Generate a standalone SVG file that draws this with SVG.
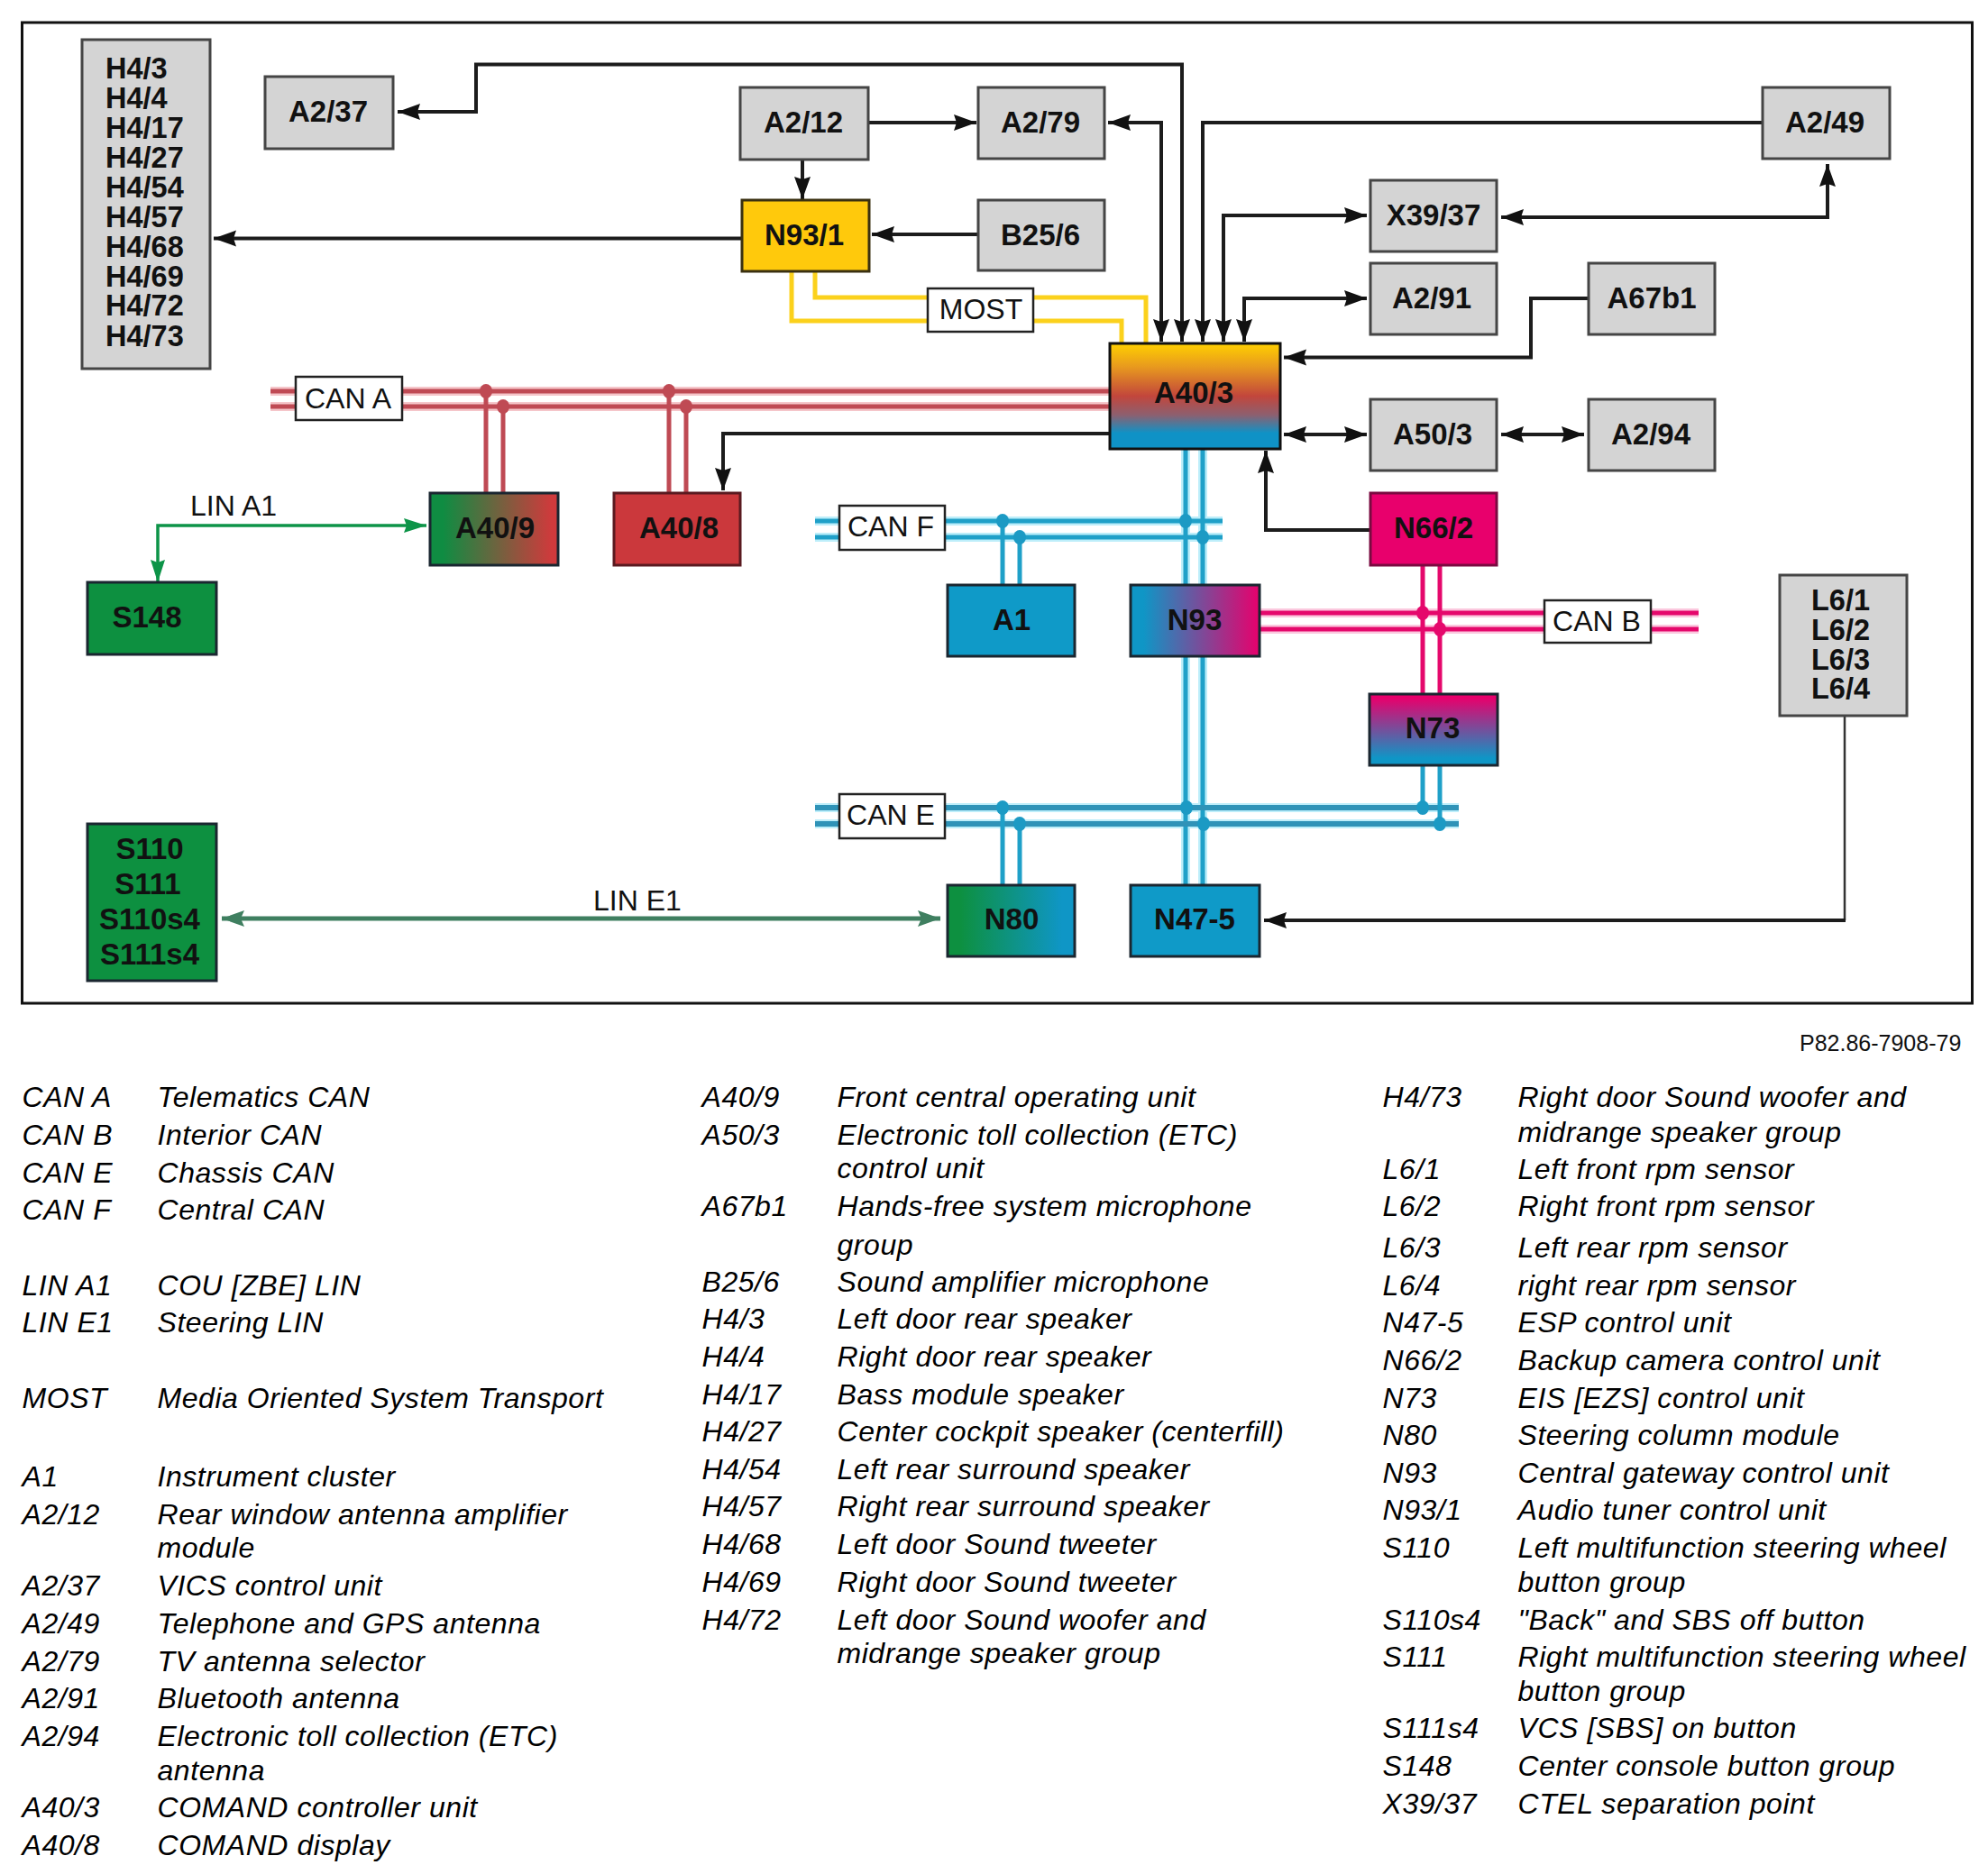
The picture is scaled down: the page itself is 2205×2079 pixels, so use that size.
<svg xmlns="http://www.w3.org/2000/svg" width="2205" height="2079" viewBox="0 0 2205 2079">
<style>
text{font-family:"Liberation Sans",Arial,sans-serif;fill:#111}
.n{fill:#d4d4d4;stroke:#454545;stroke-width:3}
.c{stroke:#1a2630;stroke-width:3}
.b{font-size:33px;font-weight:bold;text-anchor:middle;transform:translateY(-1px)}
.bs{font-size:32.5px;font-weight:bold;transform:translateY(-1px)}
.lb{fill:#fff;stroke:#222;stroke-width:2.5}
.t{font-size:32px;text-anchor:middle;transform:translateY(-1px)}
.l{font-size:32px;font-style:italic;letter-spacing:.55px;fill:#000}
.k{fill:none;stroke:#1c1c1c;stroke-width:4}
.ks{fill:none;stroke:#333;stroke-width:2.5}
.yel{fill:none;stroke:#fbd11c;stroke-width:5}
.red{fill:none;stroke:#bf4a54;stroke-width:5}
.blu{fill:none;stroke:#1fa0c8;stroke-width:5}
.bld{fill:none;stroke:#2f93b8;stroke-width:6}
.pnk{fill:none;stroke:#e5086c;stroke-width:5}
.hr{fill:none;stroke:#f5c6ca;stroke-width:10}
.hb{fill:none;stroke:#bdeefa;stroke-width:10}
.hp{fill:none;stroke:#fbc8de;stroke-width:10}
.dr{fill:#bf4a54}.db{fill:#1c9ac4}.dp{fill:#e5086c}
</style>
<defs>
<marker id="ah" markerUnits="userSpaceOnUse" markerWidth="26" markerHeight="20" refX="25" refY="10" orient="auto-start-reverse"><path d="M0,1 L25,10 L0,19 L3,10 Z" fill="#111"/></marker>
<marker id="ag" markerUnits="userSpaceOnUse" markerWidth="26" markerHeight="18" refX="25" refY="9" orient="auto-start-reverse"><path d="M0,1 L25,9 L0,17 L3,9 Z" fill="#0d9448"/></marker>
<marker id="ad" markerUnits="userSpaceOnUse" markerWidth="26" markerHeight="20" refX="25" refY="10" orient="auto-start-reverse"><path d="M0,1 L25,10 L0,19 L4,10 Z" fill="#3f7f60"/></marker>
<linearGradient id="g403" x1="0" y1="0" x2="0" y2="1"><stop offset="0" stop-color="#ffd000"/><stop offset=".22" stop-color="#e89a1e"/><stop offset=".5" stop-color="#c2463c"/><stop offset=".68" stop-color="#8c6070"/><stop offset=".85" stop-color="#0f92c6"/><stop offset="1" stop-color="#0f92c6"/></linearGradient>
<linearGradient id="g409" x1="0" y1="0" x2="1" y2="0"><stop offset=".1" stop-color="#0f8c42"/><stop offset=".95" stop-color="#cf3a3c"/></linearGradient>
<linearGradient id="gn93" x1="0" y1="0" x2="1" y2="0"><stop offset=".1" stop-color="#0f96c6"/><stop offset="1" stop-color="#e8006c"/></linearGradient>
<linearGradient id="gn73" x1="0" y1="0" x2="0" y2="1"><stop offset=".05" stop-color="#e8006c"/><stop offset=".9" stop-color="#0f96c6"/></linearGradient>
<linearGradient id="gn80" x1="0" y1="0" x2="1" y2="0"><stop offset=".1" stop-color="#0d9040"/><stop offset=".9" stop-color="#0f96c6"/></linearGradient>
</defs>
<rect width="2205" height="2079" fill="#fff"/>
<rect id="frame" x="24.5" y="25" width="2163" height="1088" fill="none" stroke="#111" stroke-width="3"/>

<g id="connectors">
<path class="yel" d="M878,301 V356 H1244 V381"/>
<path class="yel" d="M904,301 V330 H1271 V381"/>
<path class="hr" d="M300,434 H1231 M300,451 H1231"/>
<path class="red" d="M300,434 H1231 M300,451 H1231 M539,434 V547 M558,451 V547 M742,434 V547 M761,451 V547"/>
<ellipse class="dr" cx="539" cy="434" rx="7" ry="8"/><ellipse class="dr" cx="558" cy="451" rx="7" ry="8"/><ellipse class="dr" cx="742" cy="434" rx="7" ry="8"/><ellipse class="dr" cx="761" cy="451" rx="7" ry="8"/>
<path class="hb" d="M904,578 H1356 M904,596 H1356 M904,896 H1618 M904,914 H1618 M1315,498 V982 M1334,498 V982"/>
<path class="blu" d="M904,578 H1356 M904,596 H1356 M1112,578 V649 M1131,596 V649 M1315,498 V982 M1334,498 V982"/>
<path class="bld" d="M904,896 H1618 M904,914 H1618"/>
<path class="blu" d="M1112,896 V982 M1131,914 V982 M1578,849 V896 M1597,849 V914"/>
<path class="hp" d="M1397,680 H1884 M1397,698 H1884"/>
<path class="pnk" d="M1397,680 H1884 M1397,698 H1884 M1578,627 V770 M1597,627 V770"/>
<g class="db"><ellipse cx="1112" cy="578" rx="7" ry="8"/><ellipse cx="1131" cy="596" rx="7" ry="8"/><ellipse cx="1315" cy="578" rx="7" ry="8"/><ellipse cx="1334" cy="596" rx="7" ry="8"/><ellipse cx="1112" cy="896" rx="7" ry="8"/><ellipse cx="1131" cy="914" rx="7" ry="8"/><ellipse cx="1316" cy="896" rx="7" ry="8"/><ellipse cx="1335" cy="914" rx="7" ry="8"/><ellipse cx="1578" cy="896" rx="7" ry="8"/><ellipse cx="1597" cy="914" rx="7" ry="8"/></g>
<g class="dp"><ellipse cx="1578" cy="680" rx="7" ry="8"/><ellipse cx="1597" cy="698" rx="7" ry="8"/></g>
<path class="k" d="M1311,379 V71.5 H528 V124 H441" marker-start="url(#ah)" marker-end="url(#ah)"/>
<path class="k" d="M1229,136 H1288 V379" marker-start="url(#ah)" marker-end="url(#ah)"/>
<path class="k" d="M1955,136 H1334 V379" marker-end="url(#ah)"/>
<path class="k" d="M1516,239 H1357 V379" marker-start="url(#ah)" marker-end="url(#ah)"/>
<path class="k" d="M1516,331 H1380 V379" marker-start="url(#ah)" marker-end="url(#ah)"/>
<path class="k" d="M1665,241 H2027 V182" marker-start="url(#ah)" marker-end="url(#ah)"/>
<path class="k" d="M1762,331 H1698 V396.5 H1424" marker-end="url(#ah)"/>
<path class="k" d="M1424,482 H1516" marker-start="url(#ah)" marker-end="url(#ah)"/>
<path class="k" d="M1665,482 H1757" marker-start="url(#ah)" marker-end="url(#ah)"/>
<path class="k" d="M1520,588 H1404 V500" marker-end="url(#ah)"/>
<path class="k" d="M1231,481 H802 V544" marker-end="url(#ah)"/>
<path class="k" d="M963,136 H1083" marker-end="url(#ah)"/>
<path class="k" d="M890,177 V221" marker-end="url(#ah)"/>
<path class="k" d="M1085,260 H967" marker-end="url(#ah)"/>
<path class="k" d="M823,264.5 H237" marker-end="url(#ah)"/>
<path fill="none" stroke="#0d9448" stroke-width="3.5" d="M473,583 H175 V646" marker-start="url(#ag)" marker-end="url(#ag)"/>
<path fill="none" stroke="#3f7f60" stroke-width="5" d="M246,1019 H1043" marker-start="url(#ad)" marker-end="url(#ad)"/>
<path class="ks" d="M2046,794 V1021"/>
<path class="k" d="M2047,1021 H1402" marker-end="url(#ah)"/>
</g>

<g id="n-H4"><rect class="n" x="91" y="44" width="142" height="365"/>
<text class="bs" x="117" y="88">H4/3</text><text class="bs" x="117" y="121">H4/4</text><text class="bs" x="117" y="154">H4/17</text><text class="bs" x="117" y="187">H4/27</text><text class="bs" x="117" y="220">H4/54</text><text class="bs" x="117" y="253">H4/57</text><text class="bs" x="117" y="286">H4/68</text><text class="bs" x="117" y="319">H4/69</text><text class="bs" x="117" y="351">H4/72</text><text class="bs" x="117" y="385">H4/73</text></g>
<g id="n-A2-37"><rect class="n" x="294" y="85" width="142" height="80"/><text class="b" x="364" y="136">A2/37</text></g>
<g id="n-A2-12"><rect class="n" x="821" y="97" width="142" height="80"/><text class="b" x="891" y="148">A2/12</text></g>
<g id="n-A2-79"><rect class="n" x="1085" y="97" width="140" height="79"/><text class="b" x="1154" y="148">A2/79</text></g>
<g id="n-A2-49"><rect class="n" x="1955" y="97" width="141" height="79"/><text class="b" x="2024" y="148">A2/49</text></g>
<g id="n-N93-1"><rect x="823" y="222" width="141" height="79" fill="#ffc90c" stroke="#3a3010" stroke-width="3"/><text class="b" x="892" y="273">N93/1</text></g>
<g id="n-B25-6"><rect class="n" x="1085" y="222" width="140" height="78"/><text class="b" x="1154" y="273">B25/6</text></g>
<g id="n-X39-37"><rect class="n" x="1520" y="200" width="140" height="79"/><text class="b" x="1590" y="251">X39/37</text></g>
<g id="n-A2-91"><rect class="n" x="1520" y="292" width="140" height="79"/><text class="b" x="1588" y="343">A2/91</text></g>
<g id="n-A67b1"><rect class="n" x="1762" y="292" width="140" height="79"/><text class="b" x="1832" y="343">A67b1</text></g>
<g id="n-A40-3"><rect x="1231" y="381" width="189" height="117" fill="url(#g403)" stroke="#111" stroke-width="3"/><text class="b" x="1324" y="448">A40/3</text></g>
<g id="n-A50-3"><rect class="n" x="1520" y="443" width="140" height="79"/><text class="b" x="1589" y="494">A50/3</text></g>
<g id="n-A2-94"><rect class="n" x="1762" y="443" width="140" height="79"/><text class="b" x="1831" y="494">A2/94</text></g>
<g id="n-N66-2"><rect x="1520" y="547" width="140" height="80" fill="#e8006c" stroke="#7a0a40" stroke-width="3"/><text class="b" x="1590" y="598">N66/2</text></g>
<g id="n-A40-9"><rect class="c" x="477" y="547" width="142" height="80" fill="url(#g409)"/><text class="b" x="549" y="598">A40/9</text></g>
<g id="n-A40-8"><rect x="681" y="547" width="140" height="80" fill="#cb383c" stroke="#5a1a20" stroke-width="3"/><text class="b" x="753" y="598">A40/8</text></g>
<g id="n-S148"><rect class="c" x="97" y="646" width="143" height="80" fill="#0d9040"/><text class="b" x="163" y="697">S148</text></g>
<g id="n-A1"><rect class="c" x="1051" y="649" width="141" height="79" fill="#0f9ac8"/><text class="b" x="1122" y="700">A1</text></g>
<g id="n-N93"><rect class="c" x="1254" y="649" width="143" height="79" fill="url(#gn93)"/><text class="b" x="1325" y="700">N93</text></g>
<g id="n-N73"><rect class="c" x="1519" y="770" width="142" height="79" fill="url(#gn73)"/><text class="b" x="1589" y="820">N73</text></g>
<g id="n-L6"><rect class="n" x="1974" y="638" width="141" height="156"/><text class="bs" x="2009" y="678">L6/1</text><text class="bs" x="2009" y="711">L6/2</text><text class="bs" x="2009" y="743.5">L6/3</text><text class="bs" x="2009" y="776">L6/4</text></g>
<g id="n-S110"><rect class="c" x="97" y="914" width="143" height="174" fill="#0d9040"/><text class="b" x="166" y="953.5">S110</text><text class="b" x="164" y="993">S111</text><text class="b" x="166" y="1032">S110s4</text><text class="b" x="166" y="1071">S111s4</text></g>
<g id="n-N80"><rect class="c" x="1051" y="982" width="141" height="79" fill="url(#gn80)"/><text class="b" x="1122" y="1032">N80</text></g>
<g id="n-N47-5"><rect class="c" x="1254" y="982" width="143" height="79" fill="#0f9ac8"/><text class="b" x="1325" y="1032">N47-5</text></g>

<g id="b-CAN-A"><rect class="lb" x="328" y="418" width="118" height="48"/><text class="t" x="386" y="453.5">CAN A</text></g>
<g id="b-CAN-F"><rect class="lb" x="931" y="561" width="117" height="49"/><text class="t" x="988" y="596">CAN F</text></g>
<g id="b-CAN-E"><rect class="lb" x="931" y="881" width="117" height="49"/><text class="t" x="988" y="916">CAN E</text></g>
<g id="b-CAN-B"><rect class="lb" x="1713" y="666" width="118" height="47"/><text class="t" x="1771" y="701">CAN B</text></g>
<g id="b-MOST"><rect class="lb" x="1029" y="320" width="117" height="48"/><text class="t" x="1088" y="355">MOST</text></g>
<text id="b-LIN-A1" font-size="32" x="211" y="572">LIN A1</text>
<text id="b-LIN-E1" font-size="32" x="658" y="1010">LIN E1</text>
<text id="code" font-size="25" x="1996" y="1165.5">P82.86-7908-79</text>

<g id="legend" transform="translate(-0.5,-1.5)">
<text class="l" x="25" y="1229">CAN A</text><text class="l" x="175" y="1229">Telematics CAN</text>
<text class="l" x="25" y="1271">CAN B</text><text class="l" x="175" y="1271">Interior CAN</text>
<text class="l" x="25" y="1313">CAN E</text><text class="l" x="175" y="1313">Chassis CAN</text>
<text class="l" x="25" y="1354">CAN F</text><text class="l" x="175" y="1354">Central CAN</text>
<text class="l" x="25" y="1438">LIN A1</text><text class="l" x="175" y="1438">COU [ZBE] LIN</text>
<text class="l" x="25" y="1479">LIN E1</text><text class="l" x="175" y="1479">Steering LIN</text>
<text class="l" x="25" y="1563">MOST</text><text class="l" x="175" y="1563">Media Oriented System Transport</text>
<text class="l" x="25" y="1650">A1</text><text class="l" x="175" y="1650">Instrument cluster</text>
<text class="l" x="25" y="1692">A2/12</text><text class="l" x="175" y="1692">Rear window antenna amplifier</text>
<text class="l" x="175" y="1729">module</text>
<text class="l" x="25" y="1771">A2/37</text><text class="l" x="175" y="1771">VICS control unit</text>
<text class="l" x="25" y="1813">A2/49</text><text class="l" x="175" y="1813">Telephone and GPS antenna</text>
<text class="l" x="25" y="1855">A2/79</text><text class="l" x="175" y="1855">TV antenna selector</text>
<text class="l" x="25" y="1896">A2/91</text><text class="l" x="175" y="1896">Bluetooth antenna</text>
<text class="l" x="25" y="1938">A2/94</text><text class="l" x="175" y="1938">Electronic toll collection (ETC)</text>
<text class="l" x="175" y="1976">antenna</text>
<text class="l" x="25" y="2017">A40/3</text><text class="l" x="175" y="2017">COMAND controller unit</text>
<text class="l" x="25" y="2059">A40/8</text><text class="l" x="175" y="2059">COMAND display</text>

<text class="l" x="779" y="1229">A40/9</text><text class="l" x="929" y="1229">Front central operating unit</text>
<text class="l" x="779" y="1271">A50/3</text><text class="l" x="929" y="1271">Electronic toll collection (ETC)</text>
<text class="l" x="929" y="1308">control unit</text>
<text class="l" x="779" y="1350.5">A67b1</text><text class="l" x="929" y="1350.5">Hands-free system microphone</text>
<text class="l" x="929" y="1393">group</text>
<text class="l" x="779" y="1434">B25/6</text><text class="l" x="929" y="1434">Sound amplifier microphone</text>
<text class="l" x="779" y="1475">H4/3</text><text class="l" x="929" y="1475">Left door rear speaker</text>
<text class="l" x="779" y="1517">H4/4</text><text class="l" x="929" y="1517">Right door rear speaker</text>
<text class="l" x="779" y="1559">H4/17</text><text class="l" x="929" y="1559">Bass module speaker</text>
<text class="l" x="779" y="1600">H4/27</text><text class="l" x="929" y="1600">Center cockpit speaker (centerfill)</text>
<text class="l" x="779" y="1642">H4/54</text><text class="l" x="929" y="1642">Left rear surround speaker</text>
<text class="l" x="779" y="1683.5">H4/57</text><text class="l" x="929" y="1683.5">Right rear surround speaker</text>
<text class="l" x="779" y="1725">H4/68</text><text class="l" x="929" y="1725">Left door Sound tweeter</text>
<text class="l" x="779" y="1767">H4/69</text><text class="l" x="929" y="1767">Right door Sound tweeter</text>
<text class="l" x="779" y="1809">H4/72</text><text class="l" x="929" y="1809">Left door Sound woofer and</text>
<text class="l" x="929" y="1846">midrange speaker group</text>

<text class="l" x="1534" y="1229">H4/73</text><text class="l" x="1684" y="1229">Right door Sound woofer and</text>
<text class="l" x="1684" y="1268">midrange speaker group</text>
<text class="l" x="1534" y="1309">L6/1</text><text class="l" x="1684" y="1309">Left front rpm sensor</text>
<text class="l" x="1534" y="1350">L6/2</text><text class="l" x="1684" y="1350">Right front rpm sensor</text>
<text class="l" x="1534" y="1396">L6/3</text><text class="l" x="1684" y="1396">Left rear rpm sensor</text>
<text class="l" x="1534" y="1438">L6/4</text><text class="l" x="1684" y="1438">right rear rpm sensor</text>
<text class="l" x="1534" y="1479">N47-5</text><text class="l" x="1684" y="1479">ESP control unit</text>
<text class="l" x="1534" y="1521.5">N66/2</text><text class="l" x="1684" y="1521.5">Backup camera control unit</text>
<text class="l" x="1534" y="1563">N73</text><text class="l" x="1684" y="1563">EIS [EZS] control unit</text>
<text class="l" x="1534" y="1604">N80</text><text class="l" x="1684" y="1604">Steering column module</text>
<text class="l" x="1534" y="1646">N93</text><text class="l" x="1684" y="1646">Central gateway control unit</text>
<text class="l" x="1534" y="1687">N93/1</text><text class="l" x="1684" y="1687">Audio tuner control unit</text>
<text class="l" x="1534" y="1729">S110</text><text class="l" x="1684" y="1729">Left multifunction steering wheel</text>
<text class="l" x="1684" y="1767">button group</text>
<text class="l" x="1534" y="1809">S110s4</text><text class="l" x="1684" y="1809">"Back" and SBS off button</text>
<text class="l" x="1534" y="1850">S111</text><text class="l" x="1684" y="1850">Right multifunction steering wheel</text>
<text class="l" x="1684" y="1888">button group</text>
<text class="l" x="1534" y="1929">S111s4</text><text class="l" x="1684" y="1929">VCS [SBS] on button</text>
<text class="l" x="1534" y="1971">S148</text><text class="l" x="1684" y="1971">Center console button group</text>
<text class="l" x="1534" y="2013">X39/37</text><text class="l" x="1684" y="2013">CTEL separation point</text>
</g>
</svg>
